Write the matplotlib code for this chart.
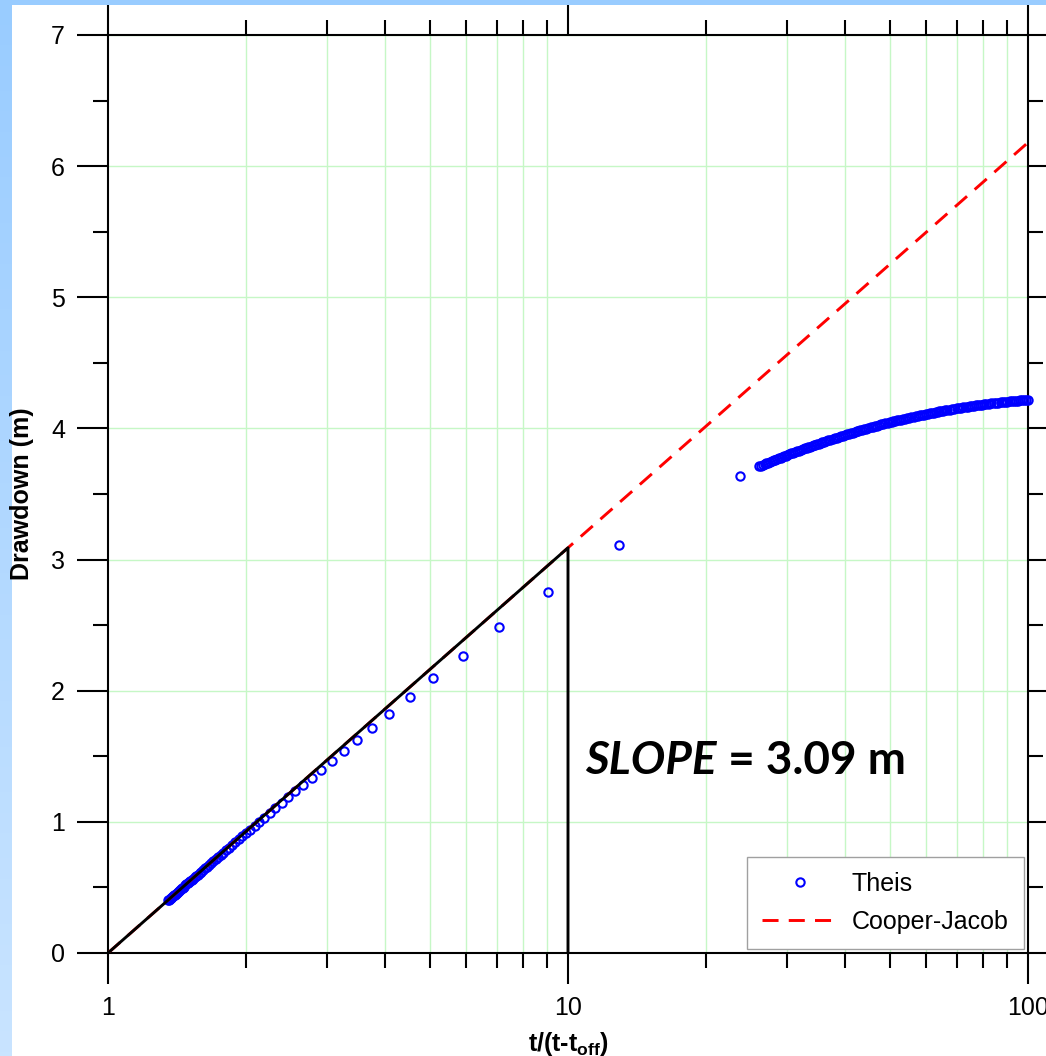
import numpy as np
import matplotlib.pyplot as plt
from matplotlib.ticker import FixedLocator, NullFormatter, FixedFormatter
from matplotlib.patches import Rectangle
from matplotlib.colors import LinearSegmentedColormap

plt.rcParams['font.family'] = ['Liberation Sans', 'DejaVu Sans']
plt.rcParams['mathtext.fontset'] = 'custom'
plt.rcParams['mathtext.rm'] = 'Liberation Sans:bold'
plt.rcParams['mathtext.bf'] = 'Liberation Sans:bold'

# --- datos: recuperacion (Theis) ---
# tiempos tardios (t/t' cerca de 1)
late_x = [9.05, 7.094, 5.902, 5.100, 4.524, 4.089, 3.750, 3.478, 3.255, 3.069,
          2.911, 2.776, 2.658, 2.555, 2.465, 2.384, 2.311, 2.246, 2.187, 2.133,
          2.084, 2.039, 1.998, 1.960, 1.924, 1.892, 1.861, 1.832, 1.806, 1.780,
          1.757, 1.735, 1.714, 1.694, 1.675, 1.658, 1.641, 1.625, 1.610, 1.595,
          1.581, 1.568, 1.556, 1.544, 1.532, 1.521, 1.510, 1.500, 1.490, 1.481,
          1.472, 1.463, 1.455, 1.447, 1.439, 1.431, 1.424, 1.417, 1.410, 1.404,
          1.397, 1.391, 1.385, 1.379, 1.373, 1.368, 1.363, 1.357, 1.352]
late_y = [2.755, 2.483, 2.268, 2.094, 1.949, 1.825, 1.717, 1.623, 1.540, 1.466,
          1.399, 1.338, 1.283, 1.232, 1.186, 1.143, 1.103, 1.066, 1.032, 1.000,
          0.970, 0.941, 0.915, 0.890, 0.866, 0.844, 0.822, 0.801, 0.783, 0.764,
          0.747, 0.731, 0.715, 0.699, 0.685, 0.671, 0.658, 0.645, 0.632, 0.620,
          0.609, 0.598, 0.588, 0.577, 0.567, 0.558, 0.548, 0.539, 0.531, 0.523,
          0.515, 0.507, 0.499, 0.492, 0.485, 0.477, 0.471, 0.465, 0.458, 0.452,
          0.446, 0.440, 0.434, 0.428, 0.423, 0.418, 0.413, 0.407, 0.402]

# puntos intermedios
mid_x = [12.9, 23.6]
mid_y = [3.11, 3.64]

# tiempos tempranos (t/t' grande)
early_x = [26.00, 26.25, 26.50, 26.75, 27.00, 27.25, 27.50, 27.75, 28.00, 28.25,
           28.50, 28.75, 29.00, 29.25, 29.50, 29.75, 30.00,
           30.3, 30.6, 30.9, 31.2, 31.5, 31.8, 32.1, 32.4, 32.7, 33.0,
           33.3, 33.6, 33.9, 34.2, 34.5, 34.8, 35.1, 35.4, 35.7, 36.0,
           36.4, 36.8, 37.2, 37.6, 38.0, 38.4, 38.8, 39.2, 39.6, 40.0,
           40.4, 40.8, 41.2, 41.6, 42.0, 42.4, 42.8, 43.2, 43.6, 44.0,
           44.5, 45.0, 45.5, 46.0, 46.5, 47.0, 47.5, 48.0, 48.5, 49.0,
           49.5, 50.0, 50.5, 51.0, 51.5, 52.0, 52.5, 53.0, 53.5, 54.0,
           54.6, 55.2, 55.8, 56.4, 57.0, 57.6, 58.2, 58.8, 59.4, 60.0,
           60.6, 61.2, 61.8, 62.4, 63.0, 63.6, 64.2, 64.8, 65.4, 66.0,
           66.8, 67.6, 68.4, 69.2, 70.0, 70.8, 71.6, 72.4, 73.2, 74.0,
           74.8, 75.6, 76.4, 77.2, 78.0, 78.8, 79.6, 80.4,
           81.2, 82.2, 83.2, 84.2, 85.2, 86.2, 87.2, 88.2, 89.2, 90.2,
           91.2, 92.2, 93.2, 94.2, 95.2, 96.2, 97.2, 98.2, 99.1, 100.0]
early_y = [3.710, 3.716, 3.722, 3.728, 3.734, 3.740, 3.745, 3.751, 3.756, 3.762,
           3.767, 3.772, 3.778, 3.783, 3.788, 3.793, 3.798,
           3.804, 3.809, 3.815, 3.820, 3.826, 3.831, 3.836, 3.842, 3.847, 3.852,
           3.857, 3.862, 3.866, 3.871, 3.876, 3.880, 3.885, 3.889, 3.894, 3.898,
           3.904, 3.909, 3.915, 3.920, 3.925, 3.930, 3.935, 3.940, 3.945, 3.950,
           3.955, 3.959, 3.964, 3.968, 3.973, 3.977, 3.981, 3.985, 3.989, 3.993,
           3.998, 4.003, 4.008, 4.012, 4.017, 4.021, 4.025, 4.030, 4.034, 4.038,
           4.042, 4.046, 4.050, 4.053, 4.057, 4.061, 4.064, 4.067, 4.071, 4.074,
           4.078, 4.082, 4.086, 4.089, 4.093, 4.096, 4.100, 4.103, 4.106, 4.109,
           4.113, 4.116, 4.119, 4.121, 4.124, 4.127, 4.130, 4.132, 4.135, 4.138,
           4.141, 4.144, 4.147, 4.150, 4.153, 4.156, 4.159, 4.161, 4.164, 4.167,
           4.169, 4.171, 4.174, 4.176, 4.178, 4.180, 4.182, 4.184,
           4.186, 4.189, 4.191, 4.193, 4.195, 4.197, 4.199, 4.201, 4.203, 4.205,
           4.206, 4.208, 4.209, 4.211, 4.212, 4.214, 4.215, 4.216, 4.217, 4.218]

# Cooper-Jacob y triangulo de pendiente
cj_x = [1, 100]
cj_y = [0.0, 6.18]
slope_x = [1, 10, 10]
slope_y = [0.0, 3.09, 0.0]
slope_txt = 3.09

x_major = [1, 10, 100]
x_labels = ['1', '10', '100']
x_minor = [2, 3, 4, 5, 6, 7, 8, 9, 20, 30, 40, 50, 60, 70, 80, 90]
y_major = [0, 1, 2, 3, 4, 5, 6, 7]
y_minor = [0.5, 1.5, 2.5, 3.5, 4.5, 5.5, 6.5]

theis_x = late_x + mid_x + early_x
theis_y = late_y + mid_y + early_y

# === figura ===
W, H = 1046, 1056
fig = plt.figure(figsize=(W / 100, H / 100), dpi=100, facecolor='white')

# franjas azules del fondo
bg = fig.add_axes([0, 0, 12 / W, 1])
grad = np.linspace(0, 1, 256).reshape(-1, 1)
cmap_bg = LinearSegmentedColormap.from_list('bg', ['#c9e4ff', '#99ccff'])
bg.imshow(grad, aspect='auto', cmap=cmap_bg, origin='lower', extent=[0, 1, 0, 1])
bg.axis('off')
fig.patches.append(Rectangle((0, 1 - 5 / H), 1, 5 / H, transform=fig.transFigure,
                             facecolor='#99ccff', edgecolor='none', zorder=0))

ax = fig.add_axes([108 / W, (H - 953) / H, 920 / W, 918 / H])
ax.set_xscale('log')
ax.set_xlim(1, 100)
ax.set_ylim(0, 7)

ax.plot(theis_x, theis_y, 'o', mfc='none', mec='blue', ms=6.0, mew=1.5,
        label='Theis', zorder=3, clip_on=False)
ax.plot(cj_x, cj_y, '--', color='red', lw=2.1, dashes=(5.5, 3.5),
        label='Cooper-Jacob', zorder=4)
ax.plot(slope_x, slope_y, '-', color='black', lw=2.1, zorder=5)

t1 = ax.text(0.5185, 0.195, 'SLOPE', transform=ax.transAxes, family='Lato',
             fontsize=33, fontweight='bold', fontstyle='italic', va='baseline')
ax.annotate(' = %.2f m' % slope_txt, xy=(1, 0), xycoords=t1, family='Lato',
            fontsize=33, fontweight='bold', va='bottom', ha='left')

# ejes y ticks
ax.xaxis.set_major_locator(FixedLocator(x_major))
ax.xaxis.set_major_formatter(FixedFormatter(x_labels))
ax.xaxis.set_minor_locator(FixedLocator(x_minor))
ax.xaxis.set_minor_formatter(NullFormatter())
ax.yaxis.set_major_locator(FixedLocator(y_major))
ax.yaxis.set_minor_locator(FixedLocator(y_minor))

ax.tick_params(which='both', direction='out', top=True, right=True,
               width=1.5, colors='black', labelsize=18, pad=9)
ax.tick_params(which='major', length=22)
ax.tick_params(which='minor', length=11)
for s in ax.spines.values():
    s.set_linewidth(1.5)

ax.grid(True, which='major', axis='y', color='#c6f7c6', lw=1)
ax.grid(True, which='minor', axis='x', color='#c6f7c6', lw=1)
ax.set_axisbelow(True)

ax.set_ylabel('Drawdown (m)', fontsize=18, fontweight='bold', labelpad=12)
ax.set_xlabel('t/(t-t$_{\\mathbf{off}}$)', fontsize=18, fontweight='bold',
              labelpad=7)

leg = ax.legend(loc='lower right', fontsize=18, numpoints=1, fancybox=False,
                framealpha=1, edgecolor='#a0a0a0', handlelength=3.1,
                handletextpad=0.5, borderaxespad=0.18, labelspacing=0.55,
                borderpad=0.6)
leg.get_frame().set_linewidth(1)

fig.savefig('out.png', dpi=100)
